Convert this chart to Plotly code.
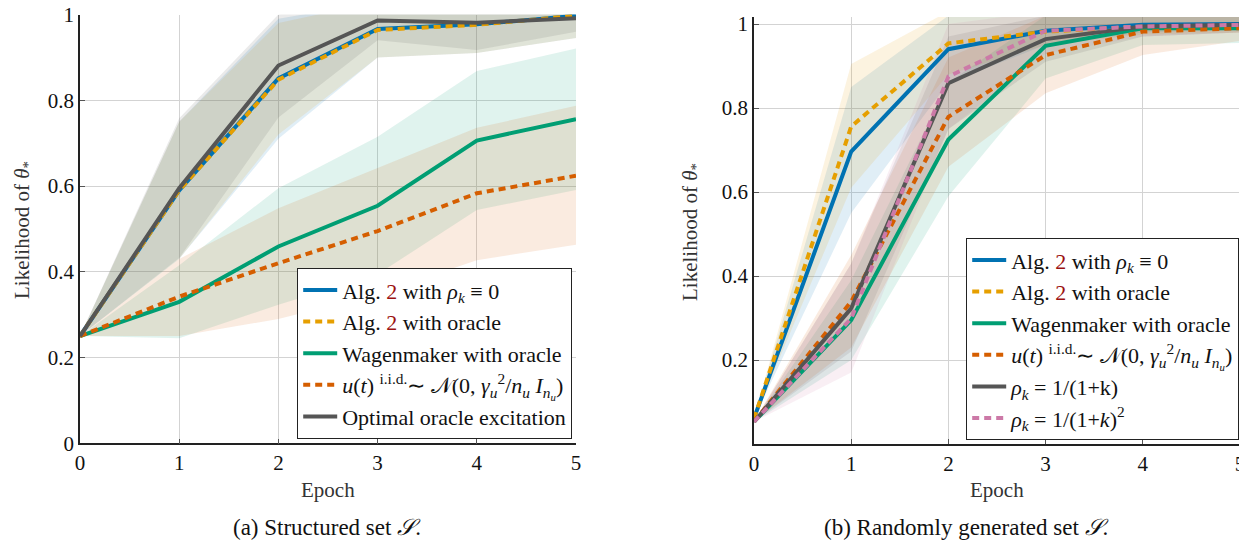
import plotly.graph_objects as go

# ---------------- data ----------------
epochs = [0, 1, 2, 3, 4, 5]

# (a) Structured set
a_alg2_rho0 = [0.25, 0.59, 0.851, 0.966, 0.977, 0.997]
a_alg2_rho0_lo = [0.25, 0.43, 0.71, 0.90, 0.91, 0.945]
a_alg2_rho0_hi = [0.25, 0.75, 0.99, 1.03, 1.04, 1.05]
a_alg2_orac = [0.25, 0.59, 0.848, 0.964, 0.976, 0.997]
a_alg2_orac_lo = [0.25, 0.43, 0.72, 0.90, 0.91, 0.945]
a_alg2_orac_hi = [0.25, 0.75, 0.98, 1.03, 1.04, 1.05]
a_wagen = [0.25, 0.33, 0.459, 0.554, 0.706, 0.756]
a_wagen_lo = [0.25, 0.245, 0.323, 0.394, 0.544, 0.591]
a_wagen_hi = [0.25, 0.415, 0.595, 0.715, 0.868, 0.921]
a_iid = [0.25, 0.342, 0.42, 0.495, 0.583, 0.624]
a_iid_lo = [0.25, 0.25, 0.29, 0.348, 0.427, 0.463]
a_iid_hi = [0.25, 0.43, 0.548, 0.642, 0.736, 0.787]
a_opt = [0.25, 0.595, 0.881, 0.986, 0.981, 0.991]
a_opt_lo = [0.25, 0.432, 0.76, 0.94, 0.917, 0.96]
a_opt_hi = [0.25, 0.758, 1.0, 1.03, 1.04, 1.02]

# (b) Randomly generated set
b_alg2_rho0 = [0.061, 0.696, 0.940, 0.984, 0.998, 1.0]
b_alg2_rho0_lo = [0.061, 0.55, 0.86, 0.95, 0.98, 0.985]
b_alg2_rho0_hi = [0.061, 0.85, 1.02, 1.02, 1.02, 1.02]
b_alg2_orac = [0.06, 0.756, 0.954, 0.982, 0.994, 0.995]
b_alg2_orac_lo = [0.06, 0.61, 0.88, 0.95, 0.975, 0.98]
b_alg2_orac_hi = [0.06, 0.905, 1.03, 1.02, 1.02, 1.02]
b_wagen = [0.053, 0.295, 0.725, 0.948, 0.990, 0.990]
b_wagen_lo = [0.053, 0.20, 0.59, 0.87, 0.95, 0.955]
b_wagen_hi = [0.053, 0.39, 0.86, 1.02, 1.02, 1.02]
b_iid = [0.053, 0.339, 0.779, 0.926, 0.982, 0.990]
b_iid_lo = [0.053, 0.23, 0.66, 0.835, 0.926, 0.96]
b_iid_hi = [0.053, 0.45, 0.92, 1.02, 1.02, 1.02]
b_rho1 = [0.053, 0.323, 0.859, 0.964, 0.994, 0.998]
b_rho1_lo = [0.053, 0.22, 0.75, 0.91, 0.97, 0.98]
b_rho1_hi = [0.053, 0.43, 0.97, 1.02, 1.02, 1.02]
b_rho2 = [0.053, 0.299, 0.875, 0.984, 0.994, 0.998]
b_rho2_lo = [0.053, 0.17, 0.75, 0.93, 0.97, 0.98]
b_rho2_hi = [0.053, 0.43, 1.0, 1.03, 1.02, 1.02]

left_ticks = [0, 0.2, 0.4, 0.6, 0.8, 1]
left_ticktext = ["0", "0.2", "0.4", "0.6", "0.8", "1"]
right_ticks = [0.2, 0.4, 0.6, 0.8, 1]
right_ticktext = ["0.2", "0.4", "0.6", "0.8", "1"]

# ---------------- style ----------------
BLUE = "#0072B2"
ORANGE = "#E69F00"
GREEN = "#009E73"
VERM = "#D55E00"
GRAY = "#555555"
PINK = "#CC79A7"
FONT = "Liberation Serif"
DASH = "7px,5px"
REF2 = "<span style='color:#9b1111'>2</span>"

names_alg2_rho0 = f"Alg. {REF2} with <i>ρ<sub>k</sub></i> ≡ 0"
names_alg2_orac = f"Alg. {REF2} with oracle"
names_wagen = "Wagenmaker with oracle"
names_iid = ("<i>u</i>(<i>t</i>) <sup>i.i.d.</sup>∼ 𝒩(0, "
             "<i>γ</i><sub><i>u</i></sub><sup>2</sup>/<i>n</i><sub><i>u</i></sub> "
             "<i>I</i><sub><i>n<sub>u</sub></i></sub>)")
names_opt = "Optimal oracle excitation"
names_rho1 = "<i>ρ<sub>k</sub></i> = 1/(1+k)"
names_rho2 = "<i>ρ<sub>k</sub></i> = 1/(1+<i>k</i>)<sup>2</sup>"


def rgba(hex_color, a):
    h = hex_color.lstrip("#")
    r, g, b = int(h[0:2], 16), int(h[2:4], 16), int(h[4:6], 16)
    return f"rgba({r},{g},{b},{a})"


fig = go.Figure()

left_series = [
    (a_alg2_rho0, a_alg2_rho0_lo, a_alg2_rho0_hi, BLUE, None, names_alg2_rho0),
    (a_alg2_orac, a_alg2_orac_lo, a_alg2_orac_hi, ORANGE, DASH, names_alg2_orac),
    (a_wagen, a_wagen_lo, a_wagen_hi, GREEN, None, names_wagen),
    (a_iid, a_iid_lo, a_iid_hi, VERM, DASH, names_iid),
    (a_opt, a_opt_lo, a_opt_hi, GRAY, None, names_opt),
]
right_series = [
    (b_alg2_rho0, b_alg2_rho0_lo, b_alg2_rho0_hi, BLUE, None, names_alg2_rho0),
    (b_alg2_orac, b_alg2_orac_lo, b_alg2_orac_hi, ORANGE, DASH, names_alg2_orac),
    (b_wagen, b_wagen_lo, b_wagen_hi, GREEN, None, names_wagen),
    (b_iid, b_iid_lo, b_iid_hi, VERM, DASH, names_iid),
    (b_rho1, b_rho1_lo, b_rho1_hi, GRAY, None, names_rho1),
    (b_rho2, b_rho2_lo, b_rho2_hi, PINK, DASH, names_rho2),
]

for series, xa, ya, leg in [(left_series, "x", "y", "legend"), (right_series, "x2", "y2", "legend2")]:
    # bands
    for mean, lo, hi, col, dash, name in series:
        fig.add_trace(go.Scatter(x=epochs, y=lo, mode="lines", line=dict(width=0),
                                 xaxis=xa, yaxis=ya, showlegend=False, hoverinfo="skip"))
        fig.add_trace(go.Scatter(x=epochs, y=hi, mode="lines", line=dict(width=0),
                                 fill="tonexty", fillcolor=rgba(col, 0.12),
                                 xaxis=xa, yaxis=ya, showlegend=False, hoverinfo="skip"))
    # mean lines
    for mean, lo, hi, col, dash, name in series:
        line = dict(color=col, width=4)
        if dash:
            line["dash"] = dash
        fig.add_trace(go.Scatter(x=epochs, y=mean, mode="lines", line=line, name=name,
                                 xaxis=xa, yaxis=ya, legend=leg))

W, H = 1247, 548
OFF = 8  # page body margin offset


def px_x(p):
    return (p - OFF) / W


def px_y(p):
    return 1 - (p - OFF) / H


axis_common = dict(
    showgrid=True, gridcolor="#d3d3d3", gridwidth=1,
    showline=True, linecolor="#222222", linewidth=1.5,
    ticks="inside", ticklen=5, tickcolor="#555555",
    tickfont=dict(family=FONT, size=21, color="#111111"),
    zeroline=False, mirror=False, ticklabeloverflow="allow",
    automargin=False,
)

LEG_FONT = dict(family=FONT, size=22, color="#111111")

fig.update_layout(
    template="none",
    width=W, height=H, autosize=False,
    margin=dict(l=0, r=0, t=0, b=0, pad=0, autoexpand=False),
    paper_bgcolor="white", plot_bgcolor="white",
    font=dict(family=FONT, size=21, color="#111111"),
    xaxis=dict(domain=[px_x(80), px_x(576)], range=[0, 5], anchor="y",
               tickvals=epochs, **axis_common),
    yaxis=dict(domain=[px_y(443.3), px_y(14.5)], range=[0, 1], anchor="x",
               tickvals=left_ticks, ticktext=left_ticktext, **axis_common),
    xaxis2=dict(domain=[px_x(754), px_x(1240)], range=[0, 5], anchor="y2",
                tickvals=epochs, **axis_common),
    yaxis2=dict(domain=[px_y(444), px_y(17)], range=[0, 1.0167], anchor="x2",
                tickvals=right_ticks, ticktext=right_ticktext, **axis_common),
    legend=dict(x=px_x(572), y=px_y(439), xanchor="right", yanchor="bottom",
                bgcolor="white", bordercolor="#222222", borderwidth=1.2,
                font=LEG_FONT, traceorder="normal",
                tracegroupgap=0, itemwidth=34),
    legend2=dict(x=px_x(1239), y=px_y(440), xanchor="right", yanchor="bottom",
                 bgcolor="white", bordercolor="#222222", borderwidth=1.2,
                 font=LEG_FONT, traceorder="normal",
                 tracegroupgap=0, itemwidth=34),
    showlegend=True,
)

ann_font = dict(family=FONT, size=21, color="#333333")
cap_font = dict(family=FONT, size=23, color="#111111")
annotations = [
    dict(text="Epoch", x=px_x(328), y=px_y(490), font=ann_font),
    dict(text="Epoch", x=px_x(997), y=px_y(490), font=ann_font),
    dict(text="Likelihood of <i>θ</i><sub>*</sub>", x=px_x(23), y=px_y(230),
         textangle=-90, font=ann_font),
    dict(text="Likelihood of <i>θ</i><sub>*</sub>", x=px_x(691), y=px_y(232),
         textangle=-90, font=ann_font),
    dict(text="(a) Structured set <i>𝒮</i>.", x=px_x(327), y=px_y(527), font=cap_font),
    dict(text="(b) Randomly generated set <i>𝒮</i>.", x=px_x(966), y=px_y(527), font=cap_font),
]
for a in annotations:
    a.update(xref="paper", yref="paper", showarrow=False, xanchor="center", yanchor="middle")
fig.update_layout(annotations=annotations)

fig.write_html("out.html")
